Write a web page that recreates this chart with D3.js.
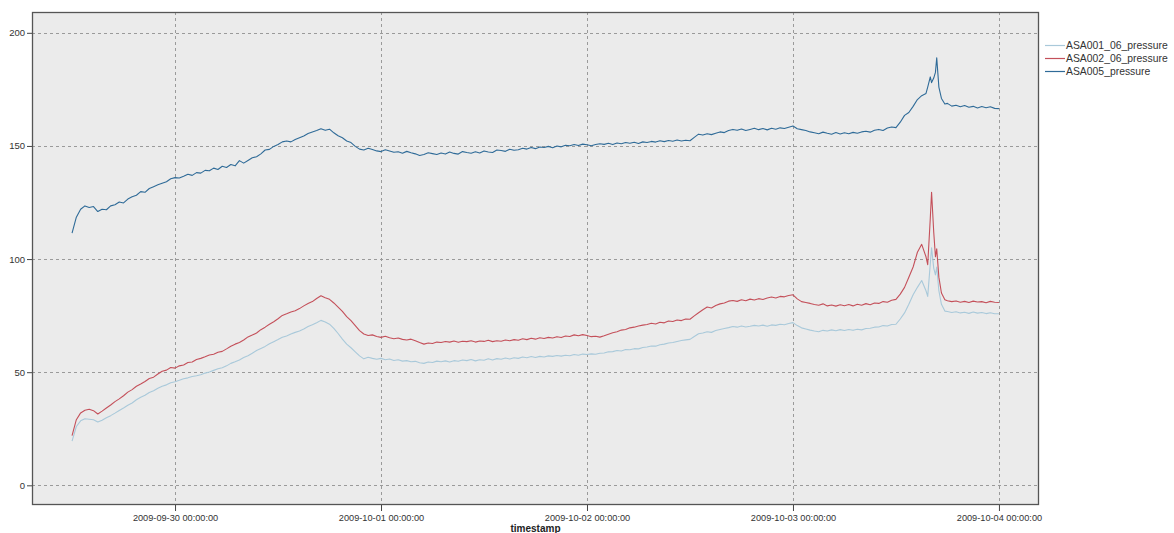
<!DOCTYPE html>
<html>
<head>
<meta charset="utf-8">
<script src="https://cdn.jsdelivr.net/npm/d3@7/dist/d3.min.js"></script>
<style>
  html, body { margin: 0; padding: 0; background: #fff; }
  svg { display: block; font-family: "Liberation Sans", Arial, sans-serif; }
</style>
</head>
<body>
<svg id="chart" width="1174" height="533"></svg>
<script>
// Sample times, in hours after 2009-09-29 12:00
const hours = [
  0, 0.5, 1, 1.5, 2, 2.5, 3, 3.5, 4, 4.5,
  5, 5.5, 6, 6.5, 7, 7.5, 8, 8.5, 9, 9.5,
  10, 10.5, 11, 11.5, 12, 12.5, 13, 13.5, 14, 14.5,
  15, 15.5, 16, 16.5, 17, 17.5, 18, 18.5, 19, 19.5,
  20, 20.5, 21, 21.5, 22, 22.5, 23, 23.5, 24, 24.5,
  25, 25.5, 26, 26.5, 27, 27.5, 28, 28.5, 29, 29.5,
  30, 30.5, 31, 31.5, 32, 32.5, 33, 33.5, 34, 34.5,
  35, 35.5, 36, 36.5, 37, 37.5, 38, 38.5, 39, 39.5,
  40, 40.5, 41, 41.5, 42, 42.5, 43, 43.5, 44, 44.5,
  45, 45.5, 46, 46.5, 47, 47.5, 48, 48.5, 49, 49.5,
  50, 50.5, 51, 51.5, 52, 52.5, 53, 53.5, 54, 54.5,
  55, 55.5, 56, 56.5, 57, 57.5, 58, 58.5, 59, 59.5,
  60, 60.5, 61, 61.5, 62, 62.5, 63, 63.5, 64, 64.5,
  65, 65.5, 66, 66.5, 67, 67.5, 68, 68.5, 69, 69.5,
  70, 70.5, 71, 71.5, 72, 72.5, 73, 73.5, 74, 74.5,
  75, 75.5, 76, 76.5, 77, 77.5, 78, 78.5, 79, 79.5,
  80, 80.5, 81, 81.5, 82, 82.5, 83, 83.5, 84, 84.5,
  85, 85.5, 86, 86.5, 87, 87.5, 88, 88.5, 89, 89.5,
  90, 90.5, 91, 91.5, 92, 92.5, 93, 93.5, 94, 94.5,
  95, 95.5, 96, 96.5, 97, 97.5, 98, 98.5, 99, 99.5,
  99.7, 100, 100.15, 100.4, 100.6, 100.75, 101, 101.3, 101.7,
  102, 102.5, 103, 103.5, 104, 104.5, 105, 105.5, 106, 106.5, 107, 107.5, 108
];

const asa001 = [
  19.5, 26, 28.5, 29.4, 29.2, 29, 28, 28.8, 29.9, 30.8,
  31.9, 33.1, 34.2, 35.4, 36.4, 37.8, 38.9, 39.8, 41, 41.8,
  42.9, 43.8, 44.4, 45.3, 45.8, 46.4, 47.1, 47.5, 48.1, 48.4,
  48.9, 49.6, 50.1, 50.8, 51.5, 52, 52.8, 53.9, 54.6, 55.4,
  56.5, 57.3, 58.4, 59.6, 60.5, 61.4, 62.6, 63.5, 64.4, 65.4,
  66, 66.9, 67.6, 68.2, 69.1, 70.2, 71, 71.9, 72.9, 72.2,
  71.2, 69.4, 67.1, 64.6, 62.4, 60.8, 59, 57.2, 55.9, 56.6,
  56.1, 55.7, 56.1, 55.5, 55.8, 55.2, 55.5, 54.9, 55.1, 54.6,
  54.8, 54.2, 53.9, 54.5, 54.3, 54.9, 54.6, 55, 54.5, 55.1,
  54.8, 55.4, 55.1, 55.6, 55, 55.5, 55.3, 55.9, 55.4, 56,
  55.7, 56.3, 55.8, 56.4, 56.1, 56.7, 56.4, 56.9, 56.5, 57,
  56.7, 57.2, 57, 57.4, 57.1, 57.5, 57.3, 57.8, 57.5, 58,
  57.8, 58.1, 57.9, 58.4, 58.5, 59, 59.1, 59.6, 59.4, 60,
  59.9, 60.4, 60.3, 60.9, 61.1, 61.6, 61.5, 62.1, 62.4, 62.9,
  63.1, 63.6, 64, 64.3, 64.5, 65.8, 67, 67.3, 67.9, 67.6,
  68.4, 68.9, 69.3, 69.7, 70.2, 69.9, 70.4, 70, 70.3, 70.7,
  70.4, 70.8, 70.3, 70.9, 70.7, 71.2, 71, 71.5, 71.9, 70.6,
  69.6, 69.1, 68.6, 68.2, 67.9, 68.5, 68.2, 68.7, 68.3, 68.8,
  68.4, 68.9, 68.5, 69, 68.7, 69.3, 69.4, 69.9, 70, 70.6,
  70.4, 71.1, 71.2, 73.5, 76.2, 80, 84.2, 87.5, 90.5, 86,
  83.5, 98, 105, 96, 93, 96.5, 86, 80, 77,
  76.8, 76.4, 76.7, 76.2, 76.5, 76, 76.6, 76.1, 76.4, 75.9, 76.3, 75.8, 75.8
];

const asa002 = [
  22, 29, 32, 33.2, 33.6, 33, 31.5, 32.8, 34.2, 35.5,
  37, 38.2, 39.6, 41.2, 42.3, 43.8, 44.8, 45.9, 47.2, 47.8,
  49.2, 50.4, 50.9, 52.1, 51.8, 52.8, 53.2, 54.3, 54.5, 55.6,
  56.1, 56.8, 57.6, 57.9, 58.8, 59.2, 60.3, 61.5, 62.4, 63.1,
  64.2, 65.6, 66.4, 67.3, 68.8, 69.9, 71.2, 72.3, 73.6, 75.1,
  75.8, 76.6, 77.2, 78.1, 79.3, 80.4, 81.2, 82.6, 83.8, 82.9,
  82.2, 80.6, 78.8, 76.9, 74.6, 72.8, 70.6, 68.4, 66.9, 66.2,
  66.5, 65.8, 65.4, 65.9, 65.2, 64.8, 65.1, 64.5, 64.2, 64.6,
  63.9, 63.1, 62.4, 62.9, 62.7, 63.3, 63.1, 63.6, 63.3, 63.8,
  63.2, 63.7, 63.5, 63.9, 63.3, 63.8, 63.6, 64.1, 63.5, 63.9,
  63.7, 64.2, 63.9, 64.4, 64.1, 64.8, 64.4, 65, 64.6, 65.2,
  64.9, 65.4, 65.1, 65.7, 65.3, 66, 65.8, 66.5, 66.1, 66.6,
  66.2, 65.7, 65.9, 65.5, 66.1, 66.8, 67.4, 67.9, 68.6, 68.9,
  69.6, 69.9, 70.4, 70.8, 71.1, 71.6, 71.3, 72.1, 71.8, 72.6,
  72.4, 73.1, 72.8, 73.5, 73.4, 74.9, 76.3, 77.6, 78.8, 78.4,
  79.5, 80.2, 80.6, 81.4, 81.7, 81.3, 82, 81.6, 82.3, 81.9,
  82.5, 82.1, 82.8, 83.2, 82.8, 83.5, 83.3, 83.9, 84.2, 82.4,
  81.2, 80.8, 80.4, 79.9, 79.6, 80.2, 79.3, 79.7, 79.2, 79.8,
  79.4, 79.9, 79.3, 80, 79.6, 80.3, 79.8, 80.6, 80.4, 81.2,
  80.9, 81.8, 82.2, 84.5, 87.5, 92, 96.5, 103, 106.5, 101,
  97.5, 118, 129.5, 112, 101, 104.5, 92, 85, 82,
  81.6, 81.2, 81.5, 80.9, 81.3, 80.8, 81.4, 81, 81.2, 80.7, 81.3, 80.9, 80.8
];

const asa005 = [
  111.5, 118.5, 122, 123.5, 122.8, 123.2, 121, 122, 121.8, 123.5,
  124, 125.2, 124.8, 126.5, 127.5, 128.2, 129.8, 129.5, 131.2, 132,
  132.8, 133.5, 134.2, 135.5, 136, 135.8, 136.6, 137.5, 137, 138.2,
  138, 139.2, 139, 140.2, 139.6, 141, 140.5, 141.8, 141.2, 143.5,
  142.4, 143.6, 144.8, 145.2, 146.5, 148.2, 148.5, 149.8, 150.6, 151.8,
  152.2, 151.8, 152.8, 153.6, 154.4, 155.5, 156.2, 156.8, 157.6, 156.9,
  157.4, 155.8, 154.5, 153.6, 152.2, 151.5, 149.8, 148.6, 148.2, 149,
  148.4, 147.8, 147.5, 148.3, 147.8, 147.2, 147.4, 146.8, 147.6, 147,
  146.5, 145.8, 146.2, 147, 146.6, 146.2, 146.9, 146.4, 147.3, 146.7,
  146.4, 147.5, 147.1, 146.8, 147.4, 146.9, 147.8, 147.3, 147.1, 148.2,
  148, 147.6, 148.5, 148.1, 148.3, 149, 148.6, 149.3, 148.8, 149.5,
  149.3, 149.8, 149.2, 150, 149.6, 150.3, 150.1, 150.6, 150.2, 150.8,
  150.5, 150.1, 150.6, 151, 150.7, 151.2, 150.6, 151.3, 151, 151.5,
  151.2, 151.6, 151.1, 151.8, 151.5, 152, 151.7, 152.3, 151.9, 152.4,
  152.1, 152.6, 152.2, 152.5, 152.3, 153.8, 155.2, 154.8, 155.4, 155,
  155.6, 156.2, 155.9, 156.8, 157.3, 156.9, 157.5, 156.8, 157.3, 157.8,
  157.2, 157.7, 157.1, 157.8, 157.4, 158, 157.7, 158.3, 158.8, 157.6,
  157.2, 156.8, 156.2, 155.8, 155.4, 156.1, 155.6, 155.2, 155.9, 155.3,
  155.8, 155.4, 156, 155.6, 156.2, 156.5, 156.1, 156.9, 157.3, 156.8,
  157.9, 158.4, 158.1, 160.5, 163.5, 164.8, 167.5, 170.5, 172.2, 173.2,
  176, 180.5, 178, 180, 182.5, 189, 176, 171, 168.5,
  168.8, 167.6, 168, 167.3, 167.9, 167.1, 167.5, 166.8, 167.4, 166.9, 167.3, 166.6, 166.5
];

const seriesNames = ["ASA001_06_pressure", "ASA002_06_pressure", "ASA005_pressure"];
const seriesColors = ["#a9c9da", "#c4505a", "#2f6b98"];
const yTicks = [0, 50, 100, 150, 200];
const xTickDates = ["2009-09-30", "2009-10-01", "2009-10-02", "2009-10-03", "2009-10-04"];

const svg = d3.select("#chart");
const plot = { left: 32, right: 1039, top: 12, bottom: 505 };

const start = new Date(2009, 8, 29, 12, 0, 0);
const toDate = h => new Date(start.getTime() + h * 3600 * 1000);

const x = d3.scaleTime()
  .domain([new Date(2009, 8, 29, 7, 20), new Date(2009, 9, 4, 4, 40)])
  .range([plot.left, plot.right]);
const y = d3.scaleLinear()
  .domain([-8.7, 209.2])
  .range([plot.bottom, plot.top]);

const parseDay = d3.timeParse("%Y-%m-%d");
const xTicks = xTickDates.map(parseDay);
const fmt = d3.timeFormat("%Y-%m-%d %H:%M:%S");

// panel background
svg.append("rect")
  .attr("x", plot.left).attr("y", plot.top)
  .attr("width", plot.right - plot.left).attr("height", plot.bottom - plot.top)
  .attr("fill", "#ebebeb");

// dashed grid
const grid = svg.append("g").attr("stroke", "#9a9a9a").attr("stroke-dasharray", "3,3").attr("stroke-width", 1);
grid.selectAll("line.h").data(yTicks).join("line")
  .attr("x1", plot.left).attr("x2", plot.right)
  .attr("y1", d => Math.round(y(d)) + 0.5).attr("y2", d => Math.round(y(d)) + 0.5);
grid.selectAll("line.v").data(xTicks).join("line")
  .attr("y1", plot.top).attr("y2", plot.bottom)
  .attr("x1", d => Math.round(x(d)) + 0.5).attr("x2", d => Math.round(x(d)) + 0.5);

// series lines
const data = [asa001, asa002, asa005];
const line = d3.line()
  .x((d, i) => x(toDate(hours[i])))
  .y(d => y(d));
const lines = svg.append("g").attr("fill", "none").attr("stroke-linejoin", "round");
data.forEach((vals, k) => {
  lines.append("path")
    .attr("d", line(vals))
    .attr("stroke", seriesColors[k])
    .attr("stroke-width", 1.1);
});

// panel frame
svg.append("rect")
  .attr("x", plot.left + 0.5).attr("y", plot.top + 0.5)
  .attr("width", plot.right - plot.left - 1).attr("height", plot.bottom - plot.top - 1)
  .attr("fill", "none").attr("stroke", "#555").attr("stroke-width", 1.3);

// axes
const yAxis = d3.axisLeft(y).tickValues(yTicks).tickSize(5).tickPadding(2);
const gy = svg.append("g").attr("transform", `translate(${plot.left},0)`).call(yAxis);
gy.select(".domain").remove();
gy.selectAll("line").attr("stroke", "#444");
gy.selectAll("text").attr("fill", "#333").style("font-size", "9.5px").style("font-family", "Liberation Sans, Arial, sans-serif");

const xAxis = d3.axisBottom(x).tickValues(xTicks).tickFormat(fmt).tickSize(6).tickPadding(3);
const gx = svg.append("g").attr("transform", `translate(0,${plot.bottom})`).call(xAxis);
gx.select(".domain").remove();
gx.selectAll("line").attr("stroke", "#444");
gx.selectAll("text").attr("fill", "#333").style("font-size", "9.2px").style("font-family", "Liberation Sans, Arial, sans-serif");

svg.append("text")
  .attr("x", (plot.left + plot.right) / 2).attr("y", 532)
  .attr("text-anchor", "middle")
  .attr("fill", "#222")
  .style("font-size", "10px").style("font-weight", "bold")
  .text("timestamp");

// legend
const legend = svg.append("g").attr("transform", "translate(1045,45)");
seriesNames.forEach((name, k) => {
  const g = legend.append("g").attr("transform", `translate(0,${k * 13})`);
  g.append("line").attr("x1", 0).attr("x2", 20).attr("y1", 0.5).attr("y2", 0.5)
    .attr("stroke", seriesColors[k]).attr("stroke-width", 1.2);
  g.append("text").attr("x", 21).attr("y", 4)
    .attr("fill", "#333").style("font-size", "10.4px")
    .text(name);
});
</script>
</body>
</html>
